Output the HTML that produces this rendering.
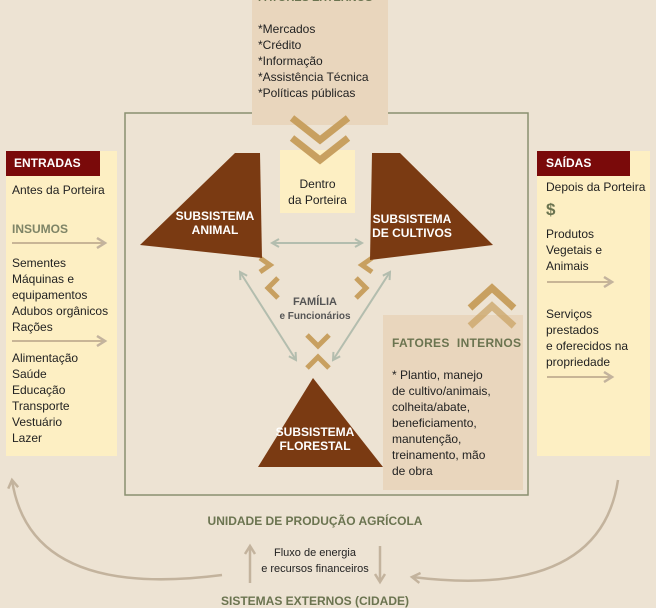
<!DOCTYPE html>
<html><head><meta charset="utf-8"><style>
body{margin:0;width:656px;height:608px;overflow:hidden;background:#ede3d3;font-family:"Liberation Sans",sans-serif;}
.a{position:absolute}
</style></head><body>
<svg class="a" style="left:0;top:0" width="656" height="608" viewBox="0 0 656 608">
<defs>
<marker id="g" markerWidth="10" markerHeight="10" refX="8" refY="5" orient="auto-start-reverse" markerUnits="userSpaceOnUse"><path d="M1,1 L8,5 L1,9" fill="none" stroke="#b3bdae" stroke-width="2"/></marker>
<marker id="t" markerWidth="12" markerHeight="12" refX="9" refY="6" orient="auto" markerUnits="userSpaceOnUse"><path d="M1,1 L9,6 L1,11" fill="none" stroke="#c3b39d" stroke-width="2.5"/></marker>
</defs>
<rect x="125" y="113" width="403" height="382" fill="none" stroke="#8a9070" stroke-width="1.5"/>
<rect x="252" y="0" width="136" height="125" fill="#e9d6bd"/>
<rect x="6" y="151" width="111" height="305" fill="#fdefc3"/>
<rect x="537" y="151" width="113" height="305" fill="#fdefc3"/>
<rect x="6" y="151" width="94" height="25" fill="#7a0a0a"/>
<rect x="537" y="151" width="93" height="25" fill="#7a0a0a"/>
<rect x="280" y="150" width="75" height="63" fill="#fdefc3"/>
<rect x="383" y="315" width="140" height="175" fill="#e9d6bd"/>
<g fill="none" stroke="#c8a060" stroke-width="7">
<path d="M292,118 L320,140 L348,118"/><path d="M292,138 L320,160 L348,138"/>
<path d="M470,308 L492,288 L514,308"/><path d="M470,326 L492,306 L514,326" opacity=".7"/>
<path d="M307,335 L318,346 L329,335" stroke-width="5"/><path d="M307,368 L318,357 L329,368" stroke-width="5"/>
<path d="M260,258 L270,265 L260,272" stroke-width="5"/><path d="M278,278 L268,288 L278,298" stroke-width="5"/>
<path d="M372,258 L362,265 L372,272" stroke-width="5"/><path d="M356,278 L366,288 L356,298" stroke-width="5"/>
</g>
<path d="M140,245 L235,153 L260,153 L262,258 Z" fill="#7a3a12"/>
<path d="M372,153 L400,153 L493,245 L370,260 Z" fill="#7a3a12"/>
<path d="M258,467 L313,378 L383,467 Z" fill="#7a3a12"/>
<g stroke="#b3bdae" stroke-width="2" fill="none">
<line x1="272" y1="243" x2="362" y2="243" marker-start="url(#g)" marker-end="url(#g)"/>
<line x1="240" y1="272" x2="296" y2="360" marker-start="url(#g)" marker-end="url(#g)"/>
<line x1="390" y1="272" x2="333" y2="360" marker-start="url(#g)" marker-end="url(#g)"/>
</g>
<g stroke="#c8b596" stroke-width="2" fill="none">
<line x1="12" y1="243" x2="105" y2="243" marker-end="url(#t)"/>
<line x1="12" y1="341" x2="105" y2="341" marker-end="url(#t)"/>
<line x1="547" y1="282" x2="612" y2="282" marker-end="url(#t)"/>
<line x1="547" y1="377" x2="612" y2="377" marker-end="url(#t)"/>
</g>
<g stroke="#c3b39d" stroke-width="2.5" fill="none">
<path d="M222,575 Q30,600 12,480" marker-end="url(#t)"/>
<path d="M618,480 Q600,600 412,577" marker-end="url(#t)"/>
<line x1="250" y1="583" x2="250" y2="546" marker-end="url(#t)"/>
<line x1="380" y1="546" x2="380" y2="582" marker-end="url(#t)"/>
</g>
</svg>
<div class="a" style="left:258px;top:-8px;font-size:11px;font-weight:bold;color:#6b7450">FATORES EXTERNOS</div>
<div class="a" style="left:258px;top:21px;font-size:12px;line-height:16px;color:#222">*Mercados<br>*Crédito<br>*Informação<br>*Assistência Técnica<br>*Políticas públicas</div>
<div class="a" style="left:280px;top:176px;width:75px;text-align:center;font-size:12px;line-height:16px;color:#222">Dentro<br>da Porteira</div>
<div class="a" style="left:14px;top:156px;font-size:12px;font-weight:bold;color:#fff">ENTRADAS</div>
<div class="a" style="left:12px;top:183px;font-size:12px;color:#222">Antes da Porteira</div>
<div class="a" style="left:12px;top:222px;font-size:12px;font-weight:bold;color:#7e8466">INSUMOS</div>
<div class="a" style="left:12px;top:255px;font-size:12px;line-height:16px;color:#222">Sementes<br>Máquinas e<br>equipamentos<br>Adubos orgânicos<br>Rações</div>
<div class="a" style="left:12px;top:350px;font-size:12px;line-height:16px;color:#222">Alimentação<br>Saúde<br>Educação<br>Transporte<br>Vestuário<br>Lazer</div>
<div class="a" style="left:546px;top:156px;font-size:12px;font-weight:bold;color:#fff">SAÍDAS</div>
<div class="a" style="left:546px;top:180px;font-size:12px;color:#222">Depois da Porteira</div>
<div class="a" style="left:546px;top:200px;font-size:17px;font-weight:bold;color:#6b7450">$</div>
<div class="a" style="left:546px;top:226px;font-size:12px;line-height:16px;color:#222">Produtos<br>Vegetais e<br>Animais</div>
<div class="a" style="left:546px;top:306px;font-size:12px;line-height:16px;color:#222">Serviços<br>prestados<br>e oferecidos na<br>propriedade</div>
<div class="a" style="left:160px;top:209px;width:110px;text-align:center;font-size:12px;line-height:14px;font-weight:bold;color:#fff">SUBSISTEMA<br>ANIMAL</div>
<div class="a" style="left:357px;top:212px;width:110px;text-align:center;font-size:12px;line-height:14px;font-weight:bold;color:#fff">SUBSISTEMA<br>DE CULTIVOS</div>
<div class="a" style="left:260px;top:425px;width:110px;text-align:center;font-size:12px;line-height:14px;font-weight:bold;color:#fff">SUBSISTEMA<br>FLORESTAL</div>
<div class="a" style="left:265px;top:295px;width:100px;text-align:center;font-size:11px;line-height:14px;font-weight:bold;color:#555"><span style="font-size:11px">FAMÍLIA</span><br><span style="font-size:10px">e Funcionários</span></div>
<div class="a" style="left:392px;top:336px;font-size:12px;font-weight:bold;color:#6b7450;letter-spacing:.3px">FATORES&nbsp; INTERNOS</div>
<div class="a" style="left:392px;top:367px;font-size:12px;line-height:16px;color:#222">* Plantio, manejo<br>de cultivo/animais,<br>colheita/abate,<br>beneficiamento,<br>manutenção,<br>treinamento, mão<br>de obra</div>
<div class="a" style="left:150px;top:514px;width:330px;text-align:center;font-size:12px;font-weight:bold;color:#6b7450">UNIDADE DE PRODUÇÃO AGRÍCOLA</div>
<div class="a" style="left:250px;top:545px;width:130px;text-align:center;font-size:11px;line-height:16px;color:#222">Fluxo de energia<br>e recursos financeiros</div>
<div class="a" style="left:150px;top:594px;width:330px;text-align:center;font-size:12px;font-weight:bold;color:#6b7450">SISTEMAS EXTERNOS (CIDADE)</div>
</body></html>
